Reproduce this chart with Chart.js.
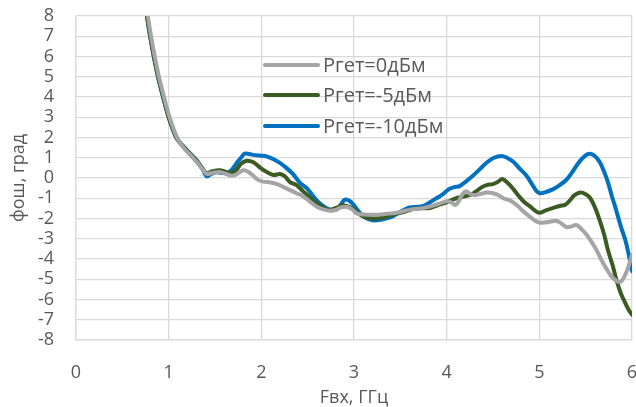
<!DOCTYPE html>
<html>
<head>
<meta charset="utf-8">
<script src="https://cdn.jsdelivr.net/npm/chart.js@4"></script>
<style>
  html, body { margin: 0; padding: 0; background: #fff; }
  #wrap { width: 636px; height: 407px; }
</style>
</head>
<body>
<div id="wrap"><canvas id="c" width="636" height="407"></canvas></div>
<script>
// Phase deviation vs input frequency for three heterodyne power levels
const seriesNames = ['Pгет=0дБм', 'Pгет=-5дБм', 'Pгет=-10дБм'];
const xTicks = [0, 1, 2, 3, 4, 5, 6];
const yTicks = [8, 7, 6, 5, 4, 3, 2, 1, 0, -1, -2, -3, -4, -5, -6, -7, -8];

// Pгет = 0 дБм
const fGray = [0.745,0.775,0.81,0.85,0.895,0.95,1.01,1.09,1.16,1.24,1.31,1.37,1.41,1.47,1.55,1.62,1.67,1.72,1.77,1.81,1.86,1.91,1.96,2.02,2.10,2.17,2.24,2.31,2.38,2.45,2.52,2.60,2.67,2.74,2.80,2.86,2.92,2.98,3.03,3.10,3.21,3.35,3.46,3.55,3.62,3.69,3.78,3.86,3.93,4.00,4.05,4.09,4.13,4.17,4.21,4.25,4.30,4.37,4.43,4.50,4.56,4.61,4.68,4.76,4.83,4.90,4.95,5.00,5.06,5.12,5.19,5.24,5.29,5.34,5.40,5.46,5.51,5.55,5.61,5.67,5.72,5.78,5.84,5.88,5.92,5.96,6.00];
const phiGray = [9.0,8.0,7.0,6.0,5.0,4.0,3.0,2.0,1.5,1.1,0.75,0.4,0.2,0.25,0.3,0.2,0.12,0.15,0.3,0.38,0.3,0.12,-0.08,-0.18,-0.22,-0.3,-0.45,-0.6,-0.75,-0.9,-1.15,-1.42,-1.55,-1.62,-1.58,-1.45,-1.42,-1.55,-1.75,-1.8,-1.82,-1.77,-1.72,-1.62,-1.55,-1.52,-1.45,-1.35,-1.25,-1.15,-1.2,-1.33,-1.15,-0.8,-0.65,-0.78,-0.85,-0.78,-0.72,-0.75,-0.85,-1.0,-1.1,-1.35,-1.66,-1.92,-2.1,-2.2,-2.2,-2.15,-2.12,-2.25,-2.42,-2.4,-2.32,-2.55,-2.8,-3.06,-3.5,-4.05,-4.45,-4.87,-5.1,-5.12,-4.85,-4.4,-3.8];

// Pгет = -5 дБм
const fGreen = [0.735,0.765,0.80,0.84,0.885,0.94,1.00,1.085,1.15,1.23,1.30,1.36,1.41,1.47,1.55,1.62,1.67,1.73,1.78,1.84,1.89,1.94,1.99,2.05,2.13,2.20,2.25,2.31,2.38,2.45,2.52,2.60,2.66,2.71,2.76,2.81,2.87,2.92,3.00,3.06,3.13,3.21,3.32,3.42,3.50,3.57,3.64,3.73,3.82,3.90,4.00,4.07,4.14,4.20,4.27,4.32,4.38,4.43,4.50,4.55,4.60,4.66,4.72,4.78,4.84,4.90,4.95,5.00,5.07,5.15,5.22,5.28,5.33,5.38,5.44,5.50,5.55,5.60,5.65,5.70,5.74,5.79,5.83,5.88,5.93,5.97,6.00];
const phiGreen = [9.0,8.0,7.0,6.0,5.0,4.0,3.0,2.0,1.6,1.2,0.85,0.5,0.24,0.33,0.38,0.3,0.25,0.4,0.7,0.85,0.82,0.7,0.5,0.32,0.15,0.2,0.1,-0.2,-0.35,-0.65,-0.95,-1.25,-1.45,-1.56,-1.55,-1.48,-1.35,-1.38,-1.55,-1.8,-1.95,-2.0,-1.95,-1.8,-1.72,-1.63,-1.52,-1.5,-1.48,-1.35,-1.2,-1.05,-0.95,-0.9,-0.8,-0.65,-0.45,-0.35,-0.3,-0.2,-0.05,-0.25,-0.55,-0.9,-1.2,-1.4,-1.6,-1.72,-1.6,-1.48,-1.38,-1.32,-1.1,-0.85,-0.72,-0.8,-1.0,-1.45,-2.07,-2.8,-3.56,-4.3,-5.0,-5.7,-6.2,-6.55,-6.75];

// Pгет = -10 дБм
const fBlue = [0.735,0.765,0.80,0.84,0.885,0.94,1.00,1.08,1.14,1.23,1.30,1.36,1.41,1.46,1.51,1.57,1.63,1.68,1.73,1.78,1.82,1.87,1.93,2.04,2.12,2.20,2.27,2.34,2.42,2.49,2.56,2.63,2.70,2.76,2.81,2.86,2.90,2.95,3.00,3.06,3.12,3.21,3.30,3.39,3.46,3.53,3.60,3.69,3.75,3.82,3.89,3.96,4.02,4.08,4.14,4.20,4.27,4.35,4.43,4.51,4.59,4.65,4.72,4.79,4.86,4.92,4.97,5.01,5.08,5.15,5.22,5.29,5.35,5.40,5.46,5.53,5.59,5.65,5.70,5.74,5.78,5.83,5.88,5.93,5.97,6.00];
const phiBlue = [9.0,8.0,7.0,6.0,5.0,4.0,3.0,2.0,1.65,1.22,0.89,0.48,0.08,0.2,0.28,0.25,0.24,0.4,0.72,1.0,1.2,1.18,1.13,1.09,0.95,0.75,0.5,0.2,-0.25,-0.5,-0.9,-1.25,-1.48,-1.58,-1.55,-1.3,-1.07,-1.12,-1.35,-1.7,-1.95,-2.1,-2.05,-1.95,-1.78,-1.6,-1.45,-1.42,-1.38,-1.2,-1.0,-0.8,-0.56,-0.45,-0.4,-0.2,0.06,0.4,0.75,1.0,1.09,1.0,0.8,0.45,0.12,-0.3,-0.65,-0.75,-0.68,-0.55,-0.35,-0.1,0.25,0.6,0.95,1.19,1.12,0.8,0.3,-0.2,-0.85,-1.6,-2.4,-3.1,-3.9,-4.6];

const lineColors = ['#A5A5A5', '#3A5B22', '#0070C0'];

const toPoints = (xs, ys) => xs.map((x, i) => ({ x: x, y: ys[i] }));

const FONT = "'Open Sans', 'DejaVu Sans', sans-serif";
const TEXT = '#595959';
const GRID = '#D9D9D9';

// Legend drawn inside the plot area
const innerLegend = {
  id: 'innerLegend',
  afterDraw(chart) {
    const ctx = chart.ctx;
    const x0 = 265, x1 = 318, tx = 323;
    const rows = [65, 95, 126];
    ctx.save();
    chart.data.datasets.forEach((ds, i) => {
      ctx.strokeStyle = ds.borderColor;
      ctx.lineWidth = 4;
      ctx.lineCap = 'round';
      ctx.beginPath();
      ctx.moveTo(x0, rows[i]);
      ctx.lineTo(x1, rows[i]);
      ctx.stroke();
      ctx.fillStyle = TEXT;
      ctx.font = '20px ' + FONT;
      ctx.textAlign = 'left';
      ctx.textBaseline = 'middle';
      ctx.fillText(ds.label, tx, rows[i] + 1);
    });
    ctx.restore();
  }
};

new Chart(document.getElementById('c'), {
  type: 'line',
  data: {
    datasets: [
      { label: seriesNames[0], data: toPoints(fGray, phiGray), borderColor: lineColors[0] },
      { label: seriesNames[1], data: toPoints(fGreen, phiGreen), borderColor: lineColors[1] },
      { label: seriesNames[2], data: toPoints(fBlue, phiBlue), borderColor: lineColors[2] }
    ]
  },
  options: {
    responsive: false,
    animation: false,
    events: [],
    layout: { padding: { left: 0, right: 4, top: 16, bottom: 0 } },
    elements: {
      line: { borderWidth: 4, tension: 0.35, fill: false, borderCapStyle: 'round', borderJoinStyle: 'round' },
      point: { radius: 0 }
    },
    plugins: { legend: { display: false }, tooltip: { enabled: false } },
    scales: {
      x: {
        type: 'linear',
        min: 0, max: 6,
        afterBuildTicks(s) { s.ticks = xTicks.map(v => ({ value: v })); },
        afterFit(s) { s.height = 67; s.paddingLeft = 0; s.paddingRight = 0; },
        grid: { color: GRID, lineWidth: 1.3, drawTicks: false },
        border: { color: GRID, width: 1.3 },
        ticks: { color: TEXT, font: { family: FONT, size: 18 }, padding: 22, maxRotation: 0, autoSkip: false },
        title: { display: true, text: 'Fвх, ГГц', color: TEXT, font: { family: FONT, size: 18, lineHeight: 1 }, padding: { top: 0, bottom: 0 } }
      },
      y: {
        type: 'linear',
        min: -8, max: 8,
        afterBuildTicks(s) { s.ticks = yTicks.map(v => ({ value: v })); },
        afterFit(s) { s.width = 76; s.paddingTop = 0; s.paddingBottom = 0; },
        grid: { color: GRID, lineWidth: 1.3, drawTicks: false },
        border: { color: GRID, width: 1.3 },
        ticks: { color: TEXT, font: { family: FONT, size: 18 }, padding: 22, autoSkip: false },
        title: { display: true, text: 'фош, град', color: TEXT, font: { family: FONT, size: 18 }, padding: { top: 8, bottom: 0 } }
      }
    }
  },
  plugins: [innerLegend]
});
</script>
</body>
</html>
